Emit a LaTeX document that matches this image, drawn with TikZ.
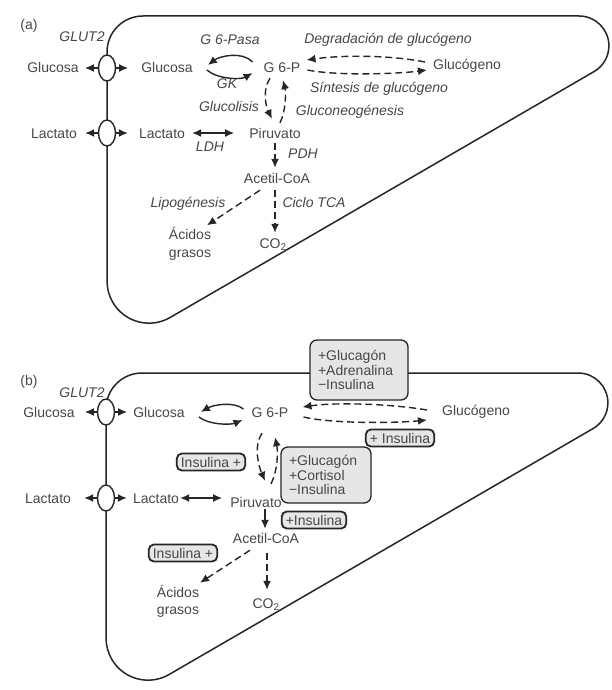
\documentclass[tikz,border=0pt]{standalone}
\usepackage{fontspec}
\setmainfont{Liberation Sans}
\usetikzlibrary{arrows.meta,shapes.geometric,calc}
\definecolor{ink}{HTML}{262626}
\definecolor{txt}{HTML}{474747}
\definecolor{boxfill}{HTML}{E6E6E6}
\tikzset{
  % outline of the hepatocyte: rounded top-left corner, pointed right end,
  % rounded bottom tip
  pics/cellwall/.style={code={
    \draw[wall] (143,16) -- (579.1,16)
      arc[start angle=-90,end angle=59.9,radius=29.8]
      -- (170.1,317.5)
      arc[start angle=59.9,end angle=180,radius=42]
      -- (107,52)
      arc[start angle=180,end angle=270,radius=36] -- cycle;
  }},
}
\begin{document}
\begin{tikzpicture}[x=1pt,y=-1pt,
  wall/.style={draw=ink,line width=1.5pt},
  met/.style={font=\fontsize{14}{16}\selectfont,text=txt,inner sep=0pt,text height=10pt,text depth=0pt},
  enz/.style={met,font=\fontsize{14}{16}\selectfont\itshape},
  two/.style={font=\fontsize{14}{18}\selectfont,text=txt,inner sep=0pt,align=center},
  tport/.style={ellipse,draw=ink,line width=1.4pt,fill=white,minimum width=17pt,minimum height=26pt,inner sep=0pt},
  conn/.style={draw=ink,line width=1.4pt},
  tip/.tip={Latex[length=9pt,width=8pt]},
  arr/.style={conn,-tip},
  biarr/.style={conn,tip-tip},
  darr/.style={arr,dash pattern=on 7pt off 4pt},
  sbox/.style={met,draw=ink,line width=1.8pt,rounded corners=5pt,fill=boxfill,inner xsep=4pt,inner ysep=3.5pt},
  bbox/.style={draw=ink,line width=1.3pt,rounded corners=7pt,fill=boxfill,text=txt,font=\fontsize{14}{14.5}\selectfont,align=left,inner xsep=8pt,inner ysep=4pt,minimum height=#1},
]
\fill[white] (0,0) rectangle (612,690);
\useasboundingbox (0,0) rectangle (612,690);

% ---------------- (a) pathways ----------------
\pic at (0,0) {cellwall};
\node[met] (a-lab) at (29,25) {(a)};
\node[enz] (a-glut) at (82,37) {GLUT2};
\node[met] (a-gluo) at (53,68) {Glucosa};
\node[tport] (a-t1) at (107,68) {};
\node[met] (a-glui) at (167,68) {Glucosa};
\node[enz] (a-g6pasa) at (230,40) {G 6-Pasa};
\node[enz] (a-gk) at (227,84) {GK};
\node[met] (a-g6p) at (282,68) {G 6-P};
\node[enz] (a-deg) at (388,39) {Degradación de glucógeno};
\node[met] (a-glyc) at (467,65) {Glucógeno};
\node[enz] (a-sin) at (379,88) {Síntesis de glucógeno};
\node[enz] (a-glyco) at (229,107) {Glucolisis};
\node[enz] (a-gng) at (350,110) {Gluconeogénesis};
\node[met] (a-lacto) at (54,133) {Lactato};
\node[tport] (a-t2) at (107,133) {};
\node[met] (a-lacti) at (162,133) {Lactato};
\node[enz] (a-ldh) at (210,146) {LDH};
\node[met] (a-pyr) at (275,133) {Piruvato};
\node[enz] (a-pdh) at (303,153) {PDH};
\node[met] (a-acoa) at (277,178) {Acetil-CoA};
\node[enz] (a-lipo) at (188,202) {Lipogénesis};
\node[enz] (a-tca) at (314,202) {Ciclo TCA};
\node[two] (a-fa) at (190,244) {Ácidos\\grasos};
\node[met] (a-co2) at (273,243) {CO\textsubscript{2}};

\draw[arr,shorten >=6pt] (a-t1) -- (a-gluo);
\draw[arr,shorten >=13pt] (a-t1) -- (a-glui);
\draw[arr,shorten >=8pt] (a-t2) -- (a-lacto);
\draw[arr,shorten >=11pt] (a-t2) -- (a-lacti);
\draw[biarr] ($(a-lacti.east)+(7,0)$) -- ($(a-pyr.west)+(-15,0)$);
\draw[arr] ($(a-g6p.west)+(-11,-6)$) .. controls +(-10,-11) and +(12,-9) .. ($(a-glui.east)+(15,-3)$);
\draw[arr] ($(a-glui.east)+(14,2)$) .. controls +(10,9) and +(-12,7) .. ($(a-g6p.west)+(-11,5)$);
\draw[darr] ($(a-glyc.west)+(-8,-3)$) .. controls +(-35,-7) and +(35,-5) .. ($(a-g6p.east)+(6,-8)$);
\draw[darr] ($(a-g6p.east)+(7,2)$) .. controls +(30,6) and +(-30,4) .. ($(a-glyc.west)+(-6,5)$);
\draw[darr] ($(a-g6p.south)+(-12,5)$) .. controls +(-8,12) and +(-6,-12) .. ($(a-pyr.north)+(-3,-9)$);
\draw[darr] ($(a-pyr.north)+(5,-5)$) .. controls +(6,-12) and +(3,12) .. ($(a-g6p.south)+(1,7)$);
\draw[darr] ($(a-pyr.south)+(0,5)$) -- ($(a-acoa.north)+(-2,-5)$);
\draw[darr] ($(a-acoa.south)+(-17,7)$) -- ($(a-fa.north)+(17,-2)$);
\draw[darr] ($(a-acoa.south)+(-2,7)$) -- ($(a-co2.north)+(2,-5)$);

% ---------------- (b) hormonal control ----------------
\pic at (-1,357) {cellwall};
\node[met] (b-lab) at (29,380) {(b)};
\node[enz] (b-glut) at (82,392) {GLUT2};
\node[met] (b-gluo) at (49,412) {Glucosa};
\node[tport] (b-t1) at (106,412) {};
\node[met] (b-glui) at (159,412) {Glucosa};
\node[met] (b-g6p) at (270,412) {G 6-P};
\node[met] (b-glyc) at (476,410) {Glucógeno};
\node[met] (b-lacto) at (48,498) {Lactato};
\node[tport] (b-t2) at (106,498) {};
\node[met] (b-lacti) at (156,498) {Lactato};
\node[met] (b-pyr) at (256,502) {Piruvato};
\node[met] (b-acoa) at (266,538) {Acetil-CoA};
\node[two,font=\fontsize{14}{17}\selectfont] (b-fa) at (178,601) {Ácidos\\grasos};
\node[met] (b-co2) at (266,603) {CO\textsubscript{2}};

\node[bbox=60pt,text width=82pt] (b-reg1) at (359,370) {+Glucagón\\+Adrenalina\\−Insulina};
\node[bbox=56pt,text width=74pt] (b-reg2) at (326,475) {+Glucagón\\+Cortisol\\−Insulina};
\node[sbox] (b-ins1) at (211,462) {Insulina +};
\node[sbox] (b-ins2) at (400,438) {+ Insulina};
\node[sbox] (b-ins3) at (314,520) {+Insulina};
\node[sbox] (b-ins4) at (183,553) {Insulina +};

\draw[arr,shorten >=10pt] (b-t1) -- (b-gluo);
\draw[arr,shorten >=6pt] (b-t1) -- (b-glui);
\draw[arr,shorten >=13pt] (b-t2) -- (b-lacto);
\draw[arr,shorten >=6pt] (b-t2) -- (b-lacti);
\draw[biarr] ($(b-lacti.east)+(1,0)$) -- ($(b-pyr.west)+(-8,-4)$);
\draw[arr] ($(b-g6p.west)+(-8,-3)$) .. controls +(-10,-8) and +(12,-7) .. ($(b-glui.east)+(16,0)$);
\draw[arr] ($(b-glui.east)+(14,5)$) .. controls +(10,8) and +(-12,5) .. ($(b-g6p.west)+(-9,8)$);
\draw[darr] ($(b-glyc.west)+(-15,0)$) .. controls +(-35,-6) and +(35,-5) .. ($(b-g6p.east)+(14,-5)$);
\draw[darr] ($(b-g6p.east)+(15,5)$) .. controls +(30,7) and +(-30,3) .. ($(b-glyc.west)+(-15,10)$);
\draw[darr] ($(b-g6p.south)+(-8,16)$) .. controls +(-9,14) and +(-6,-14) .. ($(b-pyr.north)+(9,-16)$);
\draw[darr] ($(b-pyr.north)+(15,-13)$) .. controls +(7,-14) and +(3,14) .. ($(b-g6p.south)+(5,20)$);
\draw[arr] ($(b-pyr.south)+(9,2)$) -- ($(b-acoa.north)+(-1,-4)$);
\draw[darr] ($(b-acoa.south)+(-16,7)$) -- ($(b-fa.north)+(22,-2)$);
\draw[darr] ($(b-acoa.south)+(1,10)$) -- ($(b-co2.north)+(1,-8)$);
\end{tikzpicture}
\end{document}
